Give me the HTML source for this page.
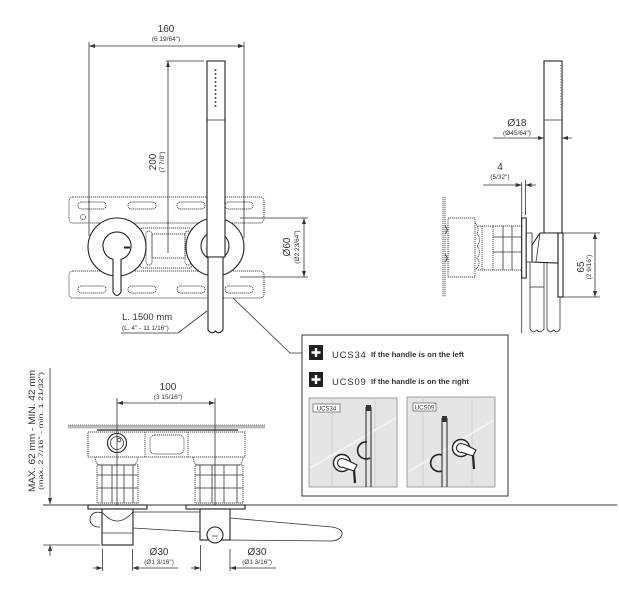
<!DOCTYPE html>
<html><head><meta charset="utf-8"><style>
html,body{margin:0;padding:0;background:#fff;}
svg{display:block;}
text{font-family:"Liberation Sans",sans-serif;fill:#333;}
.s{stroke:#333;fill:none;stroke-width:0.8;}
.d{stroke:#444;fill:none;stroke-width:0.9;stroke-dasharray:1.2 0.8;}
.t{stroke:#222;fill:#fff;stroke-width:1.1;}
</style></head><body>
<svg width="619" height="592" viewBox="0 0 619 592" xmlns="http://www.w3.org/2000/svg">
<defs>
<marker id="a" viewBox="0 0 6 4" refX="6" refY="2" markerWidth="6" markerHeight="4" orient="auto-start-reverse" markerUnits="userSpaceOnUse"><path d="M0,0 L6,2 L0,4 z" fill="#333"/></marker>
</defs>

<!-- ================= FRONT VIEW ================= -->
<line class="s" x1="89" y1="46" x2="244" y2="46" marker-start="url(#a)" marker-end="url(#a)"/>
<text x="166" y="32" font-size="10" text-anchor="middle">160</text>
<text x="166" y="41" font-size="6.5" text-anchor="middle">(6 19/64")</text>

<!-- mounting plate -->
<rect class="d" x="69" y="197" width="195" height="26" rx="4"/>
<rect class="d" x="69" y="271" width="195" height="27" rx="4"/>
<g class="d">
<rect x="78" y="202" width="28" height="7" rx="3.5"/>
<rect x="128" y="202" width="28" height="7" rx="3.5"/>
<rect x="177" y="202" width="28" height="7" rx="3.5"/>
<rect x="225" y="202" width="28" height="7" rx="3.5"/>
<rect x="78" y="286" width="28" height="7" rx="3.5"/>
<rect x="128" y="286" width="28" height="7" rx="3.5"/>
<rect x="177" y="286" width="28" height="7" rx="3.5"/>
<rect x="225" y="286" width="28" height="7" rx="3.5"/>
<circle cx="83" cy="217" r="2.5"/>
<rect x="140" y="228" width="52" height="40" rx="3" fill="#fff"/>
<rect x="152" y="234" width="33" height="24"/>
<rect x="146" y="231" width="6" height="34" rx="3"/>
<rect x="185" y="231" width="6" height="34" rx="3"/>
</g>

<!-- left valve -->
<circle cx="117" cy="247" r="29" class="t" stroke-width="1.2"/>
<path class="t" d="M113,259.4 A14 14 0 1 1 121,259.4 L121,292 Q117,299 113,292 Z"/>
<line x1="124" y1="247.5" x2="130" y2="247.5" stroke="#222" stroke-width="2"/>

<!-- right valve -->
<circle cx="215" cy="247" r="29" class="t" stroke-width="1.2"/>
<circle cx="215" cy="246" r="14" class="t" stroke-width="1.2"/>

<!-- extension lines 160 -->
<line class="s" x1="89" y1="42" x2="89" y2="236"/>
<line class="s" x1="244" y1="42" x2="244" y2="238"/>

<!-- handshower front -->
<rect x="207" y="61" width="18" height="196" class="t" stroke-width="1"/>
<line class="s" x1="207" y1="120" x2="225" y2="120"/>
<g fill="#444">
<circle cx="215.5" cy="70" r="1"/><circle cx="215.5" cy="74" r="1"/><circle cx="215.5" cy="78" r="1"/>
<circle cx="215.5" cy="82" r="1"/><circle cx="215.5" cy="86" r="1"/><circle cx="215.5" cy="90" r="1"/>
<circle cx="215.5" cy="94" r="1"/><circle cx="215.5" cy="98" r="1"/><circle cx="215.5" cy="102" r="1"/>
<circle cx="215.5" cy="106" r="1"/>
</g>
<path class="t" d="M208,257 L208,330 Q212,335 215.5,331 Q219,335 223,330 L223,257 Z"/>

<!-- 200 dim -->
<line class="s" x1="166" y1="61" x2="204" y2="61"/>
<line class="s" x1="168" y1="61" x2="168" y2="253" marker-start="url(#a)"/>
<text transform="translate(156,162) rotate(-90)" font-size="10" text-anchor="middle">200</text>
<text transform="translate(164,162) rotate(-90)" font-size="6.5" text-anchor="middle">(7 7/8")</text>

<!-- Ø60 dim -->
<line class="s" x1="240" y1="218" x2="308" y2="218"/>
<line class="s" x1="240" y1="277" x2="308" y2="277"/>
<line class="s" x1="304" y1="218" x2="304" y2="277" marker-start="url(#a)" marker-end="url(#a)"/>
<text transform="translate(290,247) rotate(-90)" font-size="10" text-anchor="middle">Ø60</text>
<text transform="translate(299,247) rotate(-90)" font-size="6.5" text-anchor="middle">(Ø2 23/64")</text>

<!-- L. 1500 leader -->
<text x="122" y="320" font-size="9.5">L. 1500 mm</text>
<text x="122" y="330" font-size="6.5">(L. 4" - 11 1/16")</text>
<polyline class="s" points="121,333 178,333 207,311"/>

<!-- leader to box -->
<polyline class="s" points="233,298 290,353 302,353"/>

<!-- ================= SIDE VIEW ================= -->
<text x="517" y="126" font-size="10" text-anchor="middle">Ø18</text>
<text x="517" y="135" font-size="6.5" text-anchor="middle">(Ø45/64")</text>
<line class="s" x1="493" y1="138" x2="544" y2="138" marker-end="url(#a)"/>
<line class="s" x1="572" y1="138" x2="562" y2="138" marker-end="url(#a)"/>

<text x="500" y="170" font-size="10" text-anchor="middle">4</text>
<text x="500" y="179" font-size="6.5" text-anchor="middle">(5/32")</text>
<line class="s" x1="483" y1="185" x2="521.7" y2="185" marker-end="url(#a)"/>
<line class="s" x1="536" y1="185" x2="525.5" y2="185" marker-end="url(#a)"/>
<line class="s" x1="525.5" y1="180" x2="525.5" y2="215"/>
<line class="s" x1="521.7" y1="182" x2="521.7" y2="333"/>

<!-- wall -->
<line class="d" x1="443" y1="197" x2="443" y2="297"/>
<line class="d" x1="445" y1="197" x2="445" y2="297"/>
<path class="s" d="M445,226 Q449,230 445,234 M445,254 Q449,258 445,262"/>
<!-- cartridge -->
<rect class="d" x="448" y="218" width="27" height="59" stroke="#333"/>
<path class="d" stroke="#333" d="M475,223 Q480,228 477,234 Q482,240 477,246 Q482,252 477,258 Q482,264 475,270"/>
<path class="d" stroke="#333" d="M478,226 H493 M478,270 H493 M482,226 V270"/>
<rect class="d" x="493" y="226" width="29" height="44" stroke="#333"/>
<g class="s"><line x1="493" y1="237" x2="522" y2="237"/><line x1="493" y1="252" x2="522" y2="252"/>
<line x1="503" y1="226" x2="503" y2="270"/><line x1="512" y1="226" x2="512" y2="270"/></g>
<!-- flange -->
<rect class="t" x="521.7" y="218" width="4.5" height="60" stroke-width="0.9"/>
<rect class="s" x="526" y="233" width="6" height="29"/>
<!-- handshower side -->
<rect class="t" x="544" y="61" width="18" height="172" stroke-width="1"/>
<line class="s" x1="544" y1="120" x2="562" y2="120"/>
<line x1="560.5" y1="65" x2="560.5" y2="110" stroke="#666" stroke-width="0.8" stroke-dasharray="0.8 2"/>
<!-- holder -->
<path class="t" d="M532,262 L532,245 L540,233 L558,233 L558,263 Z" stroke-width="1"/>
<line class="s" x1="540" y1="233" x2="536" y2="262"/>
<rect class="t" x="558" y="233" width="5" height="64" stroke-width="0.9"/>
<!-- hoses -->
<path class="s" d="M530,262 V329 Q533,334 537,330 Q540,334 544,329 V262"/>
<line class="s" x1="530" y1="287" x2="544" y2="287"/>
<path class="s" d="M547,263 V329 Q550,334 553.5,330 Q557,334 560,329 V297"/>
<!-- 65 dim -->
<line class="s" x1="563" y1="233" x2="600" y2="233"/>
<line class="s" x1="563" y1="297" x2="600" y2="297"/>
<line class="s" x1="595" y1="233" x2="595" y2="297" marker-start="url(#a)" marker-end="url(#a)"/>
<text transform="translate(584,267) rotate(-90)" font-size="10" text-anchor="middle">65</text>
<text transform="translate(591,267) rotate(-90)" font-size="6.5" text-anchor="middle">(2 9/16")</text>

<!-- ================= BOTTOM VIEW ================= -->
<text transform="translate(35,431) rotate(-90)" font-size="9" text-anchor="middle" textLength="122" lengthAdjust="spacingAndGlyphs">MAX. 62 mm - MIN. 42 mm</text>
<text transform="translate(43,431) rotate(-90)" font-size="6.5" text-anchor="middle" textLength="118" lengthAdjust="spacingAndGlyphs">(max. 2 7/16" - min. 1 21/32")</text>
<line class="s" x1="50" y1="368" x2="50" y2="504" marker-end="url(#a)"/>
<line class="s" x1="50" y1="556" x2="50" y2="545" marker-end="url(#a)"/>
<line class="s" x1="43" y1="545" x2="100" y2="545"/>
<line stroke="#333" stroke-width="1" x1="43" y1="505" x2="617" y2="505"/>

<text x="168" y="390" font-size="10" text-anchor="middle">100</text>
<text x="168" y="399" font-size="6.5" text-anchor="middle">(3 15/16")</text>
<line class="s" x1="117" y1="403" x2="215" y2="403" marker-start="url(#a)" marker-end="url(#a)"/>

<!-- tile -->
<rect x="68" y="425" width="197" height="3.5" fill="#bbb"/>
<line x1="68" y1="425" x2="265" y2="425" stroke="#666" stroke-width="0.8" stroke-dasharray="1 1"/>
<line x1="97" y1="430" x2="238" y2="430" stroke="#444" stroke-width="1.5"/>
<!-- body -->
<rect class="d" x="88" y="432" width="157" height="25" stroke="#333"/>
<line class="d" stroke="#333" x1="145" y1="432" x2="145" y2="457"/>
<line class="d" stroke="#333" x1="188" y1="432" x2="188" y2="457"/>
<rect class="d" stroke="#333" x="150" y="435" width="34" height="19" rx="5"/>
<circle cx="117" cy="443" r="9.5" class="t"/>
<circle cx="117" cy="443" r="6.5" class="s"/>
<circle cx="119" cy="440" r="1.8" class="s"/>
<!-- columns -->
<g class="d" stroke="#333">
<path d="M95,457 Q96,465 100,465 H133 Q137,465 138,457"/>
<rect x="97" y="465" width="41" height="38"/>
<path d="M193,457 Q194,465 198,465 H238 Q242,465 243,457"/>
<rect x="195" y="465" width="48" height="38"/>
</g>
<g class="s">
<line x1="97" y1="475" x2="138" y2="475"/><line x1="97" y1="488" x2="138" y2="488"/>
<line x1="102" y1="465" x2="102" y2="503"/><line x1="112" y1="465" x2="112" y2="503"/>
<line x1="124" y1="465" x2="124" y2="503"/><line x1="133" y1="465" x2="133" y2="503"/>
<line x1="195" y1="475" x2="243" y2="475"/><line x1="195" y1="488" x2="243" y2="488"/>
<line x1="200" y1="465" x2="200" y2="503"/><line x1="212" y1="465" x2="212" y2="503"/>
<line x1="224" y1="465" x2="224" y2="503"/><line x1="237" y1="465" x2="237" y2="503"/>
</g>
<line class="s" x1="117" y1="398" x2="117" y2="505"/>
<line class="s" x1="215" y1="398" x2="215" y2="505"/>
<!-- flanges -->
<rect class="t" x="88" y="505" width="59" height="4" stroke-width="0.8"/>
<rect class="t" x="186" y="505" width="59" height="4" stroke-width="0.8"/>
<!-- left outlet -->
<path class="s" d="M102,513 C88,508 85,528 100,527"/>
<rect class="t" x="102" y="509" width="31" height="36" stroke-width="0.9"/>
<path class="s" d="M102,512 Q117,530 133,512"/>
<line class="s" x1="102" y1="533" x2="133" y2="533"/>
<!-- hose lines -->
<line class="s" x1="133" y1="512" x2="200" y2="512"/>
<line class="s" x1="133" y1="528" x2="200" y2="532"/>
<path class="s" d="M230,518 L332,527 Q343,529 342,534 Q341,540 332,541 L230,540"/>
<!-- right holder -->
<rect class="t" x="200" y="509" width="30" height="31" stroke-width="0.9"/>
<circle cx="215" cy="535" r="8" class="t" stroke-width="1.2"/>
<text x="215" y="537" font-size="3.5" text-anchor="middle">ooo</text>

<!-- Ø30 dims -->
<line class="s" x1="102.5" y1="549" x2="102.5" y2="571"/>
<line class="s" x1="132.5" y1="549" x2="132.5" y2="571"/>
<line class="s" x1="93" y1="568" x2="102.5" y2="568" marker-end="url(#a)"/>
<line class="s" x1="178" y1="568" x2="132.5" y2="568" marker-end="url(#a)"/>
<text x="159" y="555" font-size="10" text-anchor="middle">Ø30</text>
<text x="159" y="564" font-size="6.5" text-anchor="middle">(Ø1 3/16")</text>
<line class="s" x1="200.5" y1="545" x2="200.5" y2="571"/>
<line class="s" x1="230" y1="549" x2="230" y2="571"/>
<line class="s" x1="191" y1="568" x2="200.5" y2="568" marker-end="url(#a)"/>
<line class="s" x1="276" y1="568" x2="230" y2="568" marker-end="url(#a)"/>
<text x="257" y="555" font-size="10" text-anchor="middle">Ø30</text>
<text x="257" y="564" font-size="6.5" text-anchor="middle">(Ø1 3/16")</text>

<!-- ================= BOX ================= -->
<rect x="302" y="335" width="206" height="161" fill="#fff" stroke="#333" stroke-width="1"/>
<rect x="309" y="345" width="14" height="15" fill="#222"/>
<path d="M311.5,352.5 H320.5 M316,348 V357" stroke="#fff" stroke-width="2.4"/>
<rect x="309" y="372" width="14" height="15" fill="#222"/>
<path d="M311.5,379.5 H320.5 M316,375 V384" stroke="#fff" stroke-width="2.4"/>
<text x="332" y="358" font-size="9.5" letter-spacing="0.8">UCS34</text>
<text x="371" y="357" font-size="7" font-weight="bold" fill="#222" textLength="93" lengthAdjust="spacingAndGlyphs">If the handle is on the left</text>
<text x="332" y="385" font-size="9.5" letter-spacing="0.8">UCS09</text>
<text x="371" y="384" font-size="7" font-weight="bold" fill="#222" textLength="98" lengthAdjust="spacingAndGlyphs">If the handle is on the right</text>

<!-- left picture -->
<rect x="309" y="398" width="88" height="89" fill="#e5e5e5" stroke="#8a8a8a" stroke-width="0.8"/>
<line x1="332" y1="398" x2="332" y2="487" stroke="#cfcfcf" stroke-width="1"/>
<line x1="375" y1="398" x2="375" y2="487" stroke="#cfcfcf" stroke-width="1"/>
<line x1="310" y1="468" x2="396" y2="418" stroke="#f3f3f3" stroke-width="2"/>
<rect x="313" y="404" width="27" height="8" fill="#fff" stroke="#444" stroke-width="0.6"/>
<text x="326.5" y="410.5" font-size="6" text-anchor="middle">UCS34</text>
<path d="M366,407 V487 M371,407 V487" stroke="#222" stroke-width="1"/>
<rect x="366" y="405" width="5" height="6" fill="#333"/>
<path d="M367,442 A8.5,8.5 0 1 0 370,458" fill="none" stroke="#222" stroke-width="1.6"/>
<circle cx="342" cy="463" r="8.5" fill="#fff" stroke="#222" stroke-width="1.4"/>
<circle cx="342" cy="463" r="4.5" fill="none" stroke="#222" stroke-width="1.1"/>
<path d="M345,459 L357,465 L354,471 L342,467" fill="#fff" stroke="#222" stroke-width="1.1"/>
<line x1="354" y1="470" x2="355" y2="483" stroke="#222" stroke-width="2.2"/>

<!-- right picture -->
<rect x="407" y="397" width="88" height="90" fill="#e5e5e5" stroke="#8a8a8a" stroke-width="0.8"/>
<line x1="423" y1="397" x2="423" y2="487" stroke="#cfcfcf" stroke-width="1"/>
<line x1="472" y1="397" x2="472" y2="487" stroke="#cfcfcf" stroke-width="1"/>
<line x1="408" y1="472" x2="494" y2="420" stroke="#f3f3f3" stroke-width="2"/>
<rect x="413" y="403" width="23" height="8" fill="#fff" stroke="#444" stroke-width="0.6"/>
<text x="424.5" y="409.5" font-size="6" text-anchor="middle">UCS09</text>
<path d="M442,418 V487 M447,418 V487" stroke="#222" stroke-width="1"/>
<rect x="442" y="416" width="5" height="6" fill="#333"/>
<path d="M442,455 A8.5,8.5 0 1 0 442,471" fill="none" stroke="#222" stroke-width="1.6"/>
<circle cx="461" cy="448" r="8.5" fill="#fff" stroke="#222" stroke-width="1.4"/>
<circle cx="461" cy="448" r="4.5" fill="none" stroke="#222" stroke-width="1.1"/>
<path d="M464,444 L476,450 L473,456 L461,452" fill="#fff" stroke="#222" stroke-width="1.1"/>
<line x1="473" y1="455" x2="474" y2="469" stroke="#222" stroke-width="2.2"/>
</svg>
</body></html>
